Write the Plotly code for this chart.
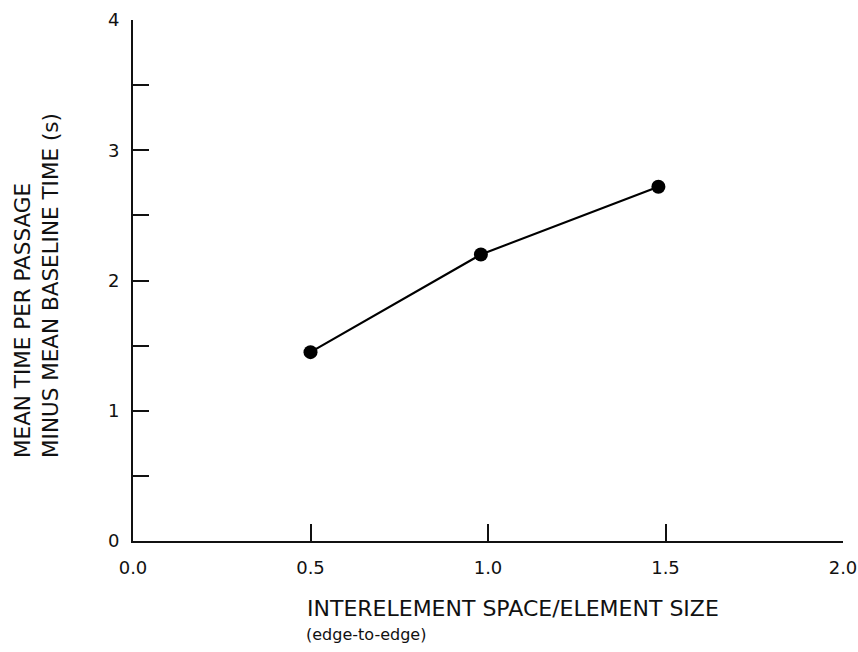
import plotly.graph_objects as go

# Data
spacing_ratio = [0.5, 0.98, 1.48]
mean_time_minus_baseline = [1.45, 2.2, 2.72]

x_tick_vals = [0.0, 0.5, 1.0, 1.5, 2.0]
x_tick_text = ["0.0", "0.5", "1.0", "1.5", "2.0"]
y_tick_vals = [0, 0.5, 1, 1.5, 2, 2.5, 3, 3.5, 4]
y_tick_text = ["0", "", "1", "", "2", "", "3", "", "4"]

FONT = "DejaVu Sans, Liberation Sans, Arial, sans-serif"

fig = go.Figure()
fig.add_trace(go.Scatter(
    x=spacing_ratio, y=mean_time_minus_baseline,
    mode="lines+markers",
    line=dict(color="black", width=2.2),
    marker=dict(color="black", size=14),
    showlegend=False,
    cliponaxis=False,
))

fig.update_layout(
    width=858, height=652,
    margin=dict(l=133, r=15, t=20, b=111),
    paper_bgcolor="white", plot_bgcolor="white",
    font=dict(family=FONT, color="#111", size=18),
    xaxis=dict(
        range=[0, 2.0], tickvals=x_tick_vals, ticktext=x_tick_text,
        ticks="inside", ticklen=17, tickwidth=2, tickcolor="#111",
        showline=True, linecolor="#111", linewidth=2,
        showgrid=False, zeroline=False, automargin=False,
        ticklabelstandoff=9,
        tickfont=dict(size=18),
    ),
    yaxis=dict(
        range=[0, 4], tickvals=y_tick_vals, ticktext=y_tick_text,
        ticks="inside", ticklen=16, tickwidth=2, tickcolor="#111",
        showline=True, linecolor="#111", linewidth=2,
        showgrid=False, zeroline=False, automargin=False,
        ticklabelstandoff=8,
        tickfont=dict(size=18),
    ),
)

# Y axis title (two lines, rotated, bottom-aligned)
fig.add_annotation(
    text="MEAN TIME PER PASSAGE<br>MINUS MEAN BASELINE TIME (s)",
    textangle=-90, align="left",
    xref="paper", yref="paper",
    x=(36-133)/710, y=(541-286)/521,
    xanchor="center", yanchor="middle",
    showarrow=False, font=dict(size=21.5, family=FONT, color="#111"),
)

# X axis title
fig.add_annotation(
    text="INTERELEMENT SPACE/ELEMENT SIZE",
    xref="paper", yref="paper",
    x=(305-133)/710, y=-(608-541)/521,
    xanchor="left", yanchor="middle",
    showarrow=False, font=dict(size=22, family=FONT, color="#111"),
)
fig.add_annotation(
    text="(edge-to-edge)",
    xref="paper", yref="paper",
    x=(304-133)/710, y=-(634-541)/521,
    xanchor="left", yanchor="middle",
    showarrow=False, font=dict(size=16, family=FONT, color="#111"),
)

fig.write_html("out.html")
